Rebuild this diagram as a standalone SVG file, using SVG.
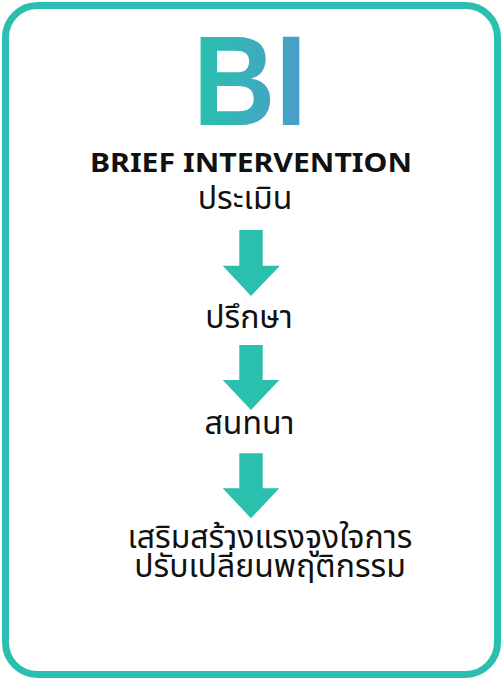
<svg xmlns="http://www.w3.org/2000/svg" width="503" height="679" viewBox="0 0 503 679">
<defs>
<linearGradient id="biGrad" x1="199" y1="0" x2="301" y2="0" gradientUnits="userSpaceOnUse">
<stop offset="0" stop-color="#29C0AE"/>
<stop offset="1" stop-color="#4B9DC9"/>
</linearGradient>
<style>
.frame{fill:#fff;stroke:#2BBFB0;stroke-width:7}
.arrow{fill:#2BBFAD}
.title{font-family:"Noto Sans","Open Sans","Liberation Sans",sans-serif;font-weight:700;fill:#111}
.bi{font-family:"Liberation Sans",Arial,sans-serif;font-weight:700;font-size:128px}
.th{font-family:"Noto Sans Thai","Noto Sans","Open Sans",sans-serif;font-size:32px;fill:#111;text-anchor:middle}
</style>
</defs>
<rect class="frame" x="5.5" y="5.5" width="492" height="669" rx="32" ry="32"/>
<g id="header">
<text x="193" y="125" class="bi" textLength="114" lengthAdjust="spacingAndGlyphs" style="fill:url(#biGrad)">BI</text>
<text x="90" y="172" class="title" font-size="27" textLength="322" lengthAdjust="spacingAndGlyphs">BRIEF INTERVENTION</text>
</g>
<g id="n1"><text class="th" x="245" y="209">ประเมิน</text></g>
<g id="n2"><text class="th" x="249" y="328">ปรึกษา</text></g>
<g id="n3"><text class="th" x="249.5" y="434">สนทนา</text></g>
<g id="n4"><text class="th" x="270" y="548">เสริมสร้างแรงจูงใจการ</text><text class="th" x="270" y="577">ปรับเปลี่ยนพฤติกรรม</text></g>
<g id="connectors">
<polygon class="arrow" points="239.3,230 262.7,230 262.7,265.7 280,265.7 251,296 222.7,265.7 239.3,265.7"/>
<polygon class="arrow" points="239.3,345 262.7,345 262.7,380 279.3,380 251,410 222.7,380 239.3,380"/>
<polygon class="arrow" points="239.3,453.3 262.7,453.3 262.7,488.3 279.3,488.3 251,518.3 222.7,488.3 239.3,488.3"/>
</g>
</svg>
